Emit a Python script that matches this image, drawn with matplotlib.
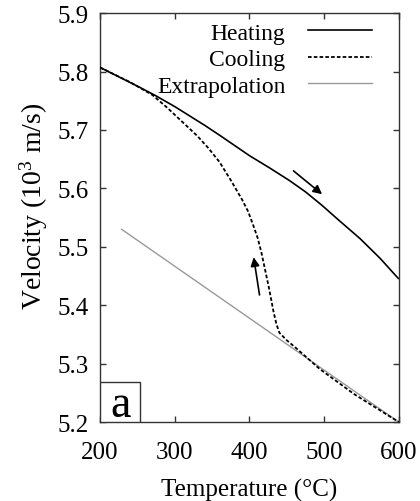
import matplotlib
matplotlib.use('Agg')
import matplotlib.pyplot as plt
from matplotlib.patches import Rectangle

# данные
heat_T = [200, 250, 274, 300, 340, 360, 400, 427, 454, 475, 497, 520, 548, 575, 599]
heat_V = [5.807, 5.775, 5.759, 5.740, 5.708, 5.691, 5.656, 5.635, 5.613, 5.594, 5.571,
          5.545, 5.514, 5.480, 5.446]

cool_T = [200, 240, 270, 290, 310, 330, 345, 360, 375, 390, 398, 405, 411, 416, 420,
          426, 432, 436, 440, 450, 463, 494, 540, 600]
cool_V = [5.807, 5.782, 5.760, 5.738, 5.714, 5.690, 5.669, 5.645, 5.614, 5.581, 5.561,
          5.537, 5.515, 5.490, 5.466, 5.430, 5.390, 5.368, 5.353, 5.340, 5.326, 5.291,
          5.248, 5.200]

ext_T = [229, 600]
ext_V = [5.530, 5.200]

plt.rcParams['font.family'] = ['Liberation Serif', 'DejaVu Serif']
plt.rcParams['mathtext.fontset'] = 'custom'
plt.rcParams['mathtext.rm'] = 'Liberation Serif'
plt.rcParams['mathtext.default'] = 'regular'

fig = plt.figure(figsize=(4.2, 5.02), dpi=100)
ax = fig.add_axes([0.238, 0.157, 0.712, 0.815])

ax.plot(ext_T, ext_V, color='#999999', lw=1.0, label='Extrapolation', zorder=2)
ax.plot(heat_T, heat_V, color='black', lw=1.2, label='Heating', zorder=3)
ax.plot(cool_T, cool_V, color='black', lw=1.3, ls=(0, (2.0, 1.2)), label='Cooling', zorder=3)

# стрелки
ax.annotate('', xy=(500, 5.587), xytext=(456, 5.633),
            arrowprops=dict(arrowstyle='-|>', color='black', lw=1.2, mutation_scale=13))
ax.annotate('', xy=(405, 5.487), xytext=(414, 5.413),
            arrowprops=dict(arrowstyle='-|>', color='black', lw=1.2, mutation_scale=13))

# метка "a"
ax.add_patch(Rectangle((200, 5.2), 53.5, 0.068, facecolor='white', edgecolor='#333333',
                       lw=1.0, zorder=5))
ax.text(228, 5.211, 'a', fontsize=33, ha='center', va='baseline', zorder=6)

ax.set_xlim(200, 600)
ax.set_ylim(5.2, 5.9)
ax.set_xticks([200, 300, 400, 500, 600])
ax.set_yticks([5.2, 5.3, 5.4, 5.5, 5.6, 5.7, 5.8, 5.9])
ax.set_yticklabels(['5.2', '5.3', '5.4', '5.5', '5.6', '5.7', '5.8', '5.9'])
ax.tick_params(direction='in', top=True, right=True, length=4.5, width=1.0,
               color='#333333', labelsize=18)
ax.tick_params(axis='x', pad=13.5)
ax.tick_params(axis='y', pad=8)
for s in ax.spines.values():
    s.set_color('#333333')
    s.set_linewidth(1.0)

ax.set_xlabel('Temperature (°C)', fontsize=18, labelpad=11)
ax.set_ylabel(r'Velocity (10$^{3}$ m/s)', fontsize=20)
ax.yaxis.set_label_coords(-0.167, 0.53)

h, l = ax.get_legend_handles_labels()
order = [1, 2, 0]
ax.legend([h[i] for i in order], [l[i] for i in order],
          loc='upper right', bbox_to_anchor=(0.91, 0.978), frameon=False,
          markerfirst=False, fontsize=17, handlelength=2.7, handletextpad=0.97,
          labelspacing=0.21, borderaxespad=0, borderpad=0)

fig.savefig('out.png', dpi=100)
